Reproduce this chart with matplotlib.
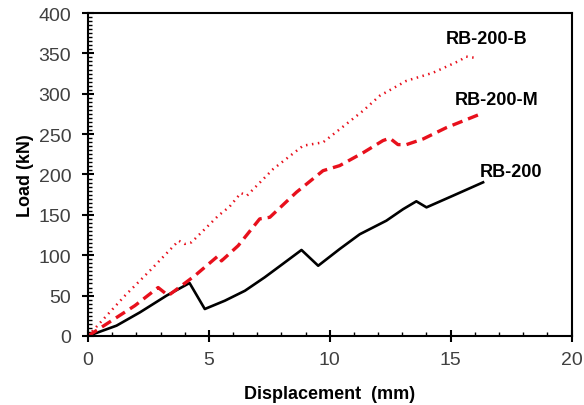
import numpy as np
import matplotlib.pyplot as plt
from matplotlib.ticker import MultipleLocator

plt.rcParams['font.family'] = ['Liberation Sans', 'DejaVu Sans']

# RB-200 (black solid)
rb_x = [0, 1.18, 2.15, 3.25, 4.2, 4.83, 5.66, 6.49, 7.31, 8.0, 8.83, 9.52, 10.41, 11.24, 12.34, 13.03, 13.58, 14.0, 15.1, 16.34]
rb_y = [0, 12.8, 29.3, 50, 65.6, 33.4, 43.7, 56, 72.7, 88, 106.5, 87, 107.7, 126, 142.8, 157, 166.8, 159.3, 173.8, 190.3]

# RB-200-M (red dashed)
m_x = [0, 1.94, 2.9, 3.32, 4.42, 5.39, 5.52, 6.21, 7.1, 7.52, 8.62, 9.72, 10.41, 11.38, 12.2, 12.48, 12.82, 13.17, 13.86, 14.82, 16.13]
m_y = [0, 37.6, 60, 50, 74.7, 99.4, 93, 111.8, 145, 147, 178, 204.7, 211, 227, 242, 245, 237, 237, 244, 258, 273.7]

# RB-200-B (red dotted)
b_x = [0, 1.53, 2.63, 3.75, 4.0, 4.28, 5.39, 5.85, 6.32, 6.58, 7.66, 8.9, 9.72, 10.41, 11.38, 12.07, 13.17, 14.27, 15.37, 15.64, 16.13]
b_y = [0, 50, 83, 118, 114, 116, 149, 160, 177, 174, 206.8, 235.7, 239.8, 256, 279, 297.6, 316, 326, 341, 346, 344]

fig = plt.figure(figsize=(5.84, 4.06), dpi=100)
ax = fig.add_axes([0.1507, 0.17, 0.828, 0.7955])

ax.plot(rb_x, rb_y, color='black', lw=1.9)
ax.plot(m_x, m_y, color='#e8101c', lw=2.4, linestyle=(0, (3.2, 1.8)))
ax.plot(b_x, b_y, color='#e8101c', lw=1.8, linestyle=(0, (0.6, 1.8)))

ax.text(16.5, 369, 'RB-200-B', fontsize=13, fontweight='bold', ha='center', va='center')
ax.text(16.9, 293, 'RB-200-M', fontsize=13, fontweight='bold', ha='center', va='center')
ax.text(17.5, 204, 'RB-200', fontsize=13, fontweight='bold', ha='center', va='center')

ax.set_xlim(0, 20)
ax.set_ylim(0, 400)
ax.xaxis.set_major_locator(MultipleLocator(5))
ax.xaxis.set_minor_locator(MultipleLocator(1))
ax.yaxis.set_major_locator(MultipleLocator(50))
ax.yaxis.set_minor_locator(MultipleLocator(5))
ax.tick_params(which='major', direction='inout', length=8, width=1.5, labelsize=14, labelcolor='#404040')
ax.tick_params(axis='x', which='major', pad=7)
ax.tick_params(axis='y', which='major', pad=8)
ax.tick_params(which='minor', direction='in', length=3, width=1.0)
for s in ax.spines.values():
    s.set_linewidth(1.5)

ax.set_xlabel('Displacement  (mm)', fontsize=13, fontweight='bold', labelpad=12)
ax.set_ylabel('Load (kN)', fontsize=13, fontweight='bold', labelpad=3)

fig.savefig('out.png', dpi=100)
